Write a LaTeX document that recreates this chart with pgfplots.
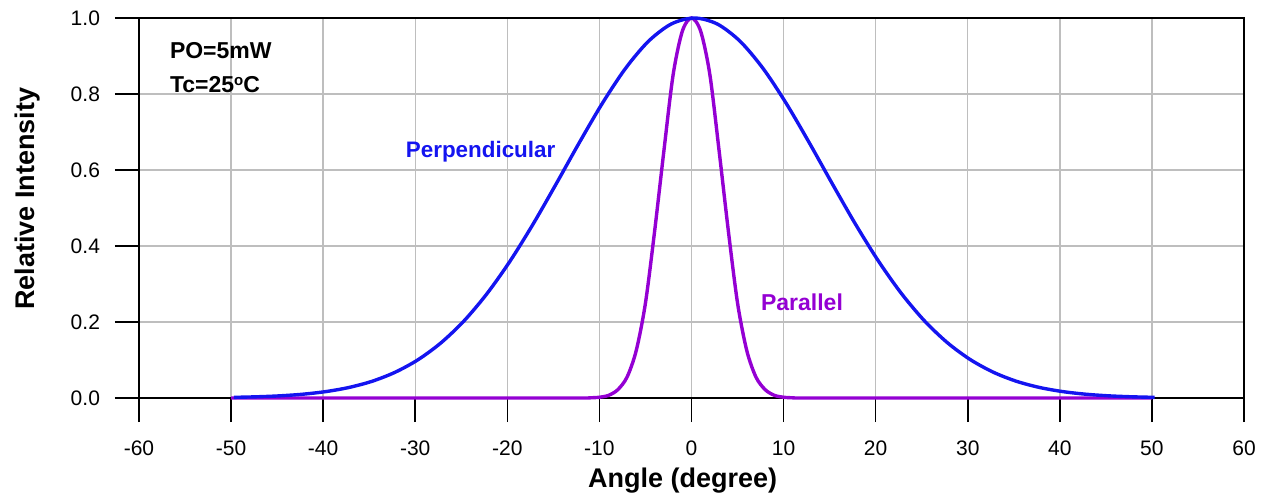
\documentclass[border=0pt]{standalone}
\usepackage{fontspec}
\setmainfont{Liberation Sans}
\usepackage{pgfplots}
\pgfplotsset{compat=1.18}

\definecolor{perpblue}{RGB}{20,20,240}
\definecolor{paraviolet}{RGB}{148,0,211}
\definecolor{gridgray}{RGB}{190,190,190}

\begin{document}
\begin{tikzpicture}
\useasboundingbox (-69.5pt,-50.5pt) rectangle (562.5pt,199pt);
\begin{axis}[
    scale only axis,
    width=552.5pt,
    height=190pt,
    at={(0,0)}, anchor=south west,
    xmin=-60, xmax=60,
    ymin=0, ymax=1,
    xtick={-60,-50,...,60},
    ytick={0,0.2,...,1.0},
    xtick pos=bottom, ytick pos=left,
    tick align=outside,
    major tick length=12pt,
    tick style={black, line width=0.8pt},
    axis line style={black, line width=0.8pt},
    grid=major,
    major grid style={gridgray, line width=0.7pt},
    ticklabel style={font=\fontsize{10.5}{12}\selectfont},
    xticklabel style={yshift=-6pt},
    yticklabel style={xshift=-4pt, /pgf/number format/.cd, fixed, fixed zerofill, precision=1},
    /pgf/number format/assume math mode=true,
    xlabel={\textbf{Angle (degree)}},
    ylabel={\textbf{Relative Intensity}},
    label style={font=\fontsize{13.5}{16}\selectfont},
    xlabel style={at={(axis description cs:0.4919,-0.2184)}, anchor=center},
    ylabel style={at={(axis description cs:-0.1005,0.524)}, anchor=center},
    clip=false,
]
% Parallel
\addplot[paraviolet, line width=1.7pt, smooth, tension=0.5] coordinates {
(-50,0) (-20,0) (-12,0) (-11,0.0005) (-10,0.002) (-9,0.007) (-8,0.022)
(-7,0.055) (-6,0.125) (-5,0.25) (-4,0.44) (-3,0.65) (-2,0.85) (-1,0.965)
(0,1.0) (1,0.965) (2,0.85) (3,0.65) (4,0.44) (5,0.25) (6,0.125)
(7,0.055) (8,0.022) (9,0.007) (10,0.002) (11,0.0005) (12,0) (20,0) (50,0)
};
% Perpendicular
\addplot[perpblue, line width=1.7pt, smooth] coordinates {
(-49.7,0.0017) (-47.2,0.0032) (-44.7,0.0057) (-42.2,0.0100) (-39.7,0.0169)
(-37.2,0.0277) (-34.7,0.0439) (-32.2,0.0676) (-29.7,0.1007) (-27.2,0.1453)
(-24.7,0.2030) (-22.2,0.2749) (-19.7,0.3604) (-17.2,0.4578) (-14.7,0.5633)
(-12.2,0.6713) (-9.7,0.7748) (-7.2,0.8663) (-4.7,0.9382) (-2.2,0.9842)
(0.3,1.0)
(2.8,0.9842) (5.3,0.9382) (7.8,0.8663) (10.3,0.7748) (12.8,0.6713)
(15.3,0.5633) (17.8,0.4578) (20.3,0.3604) (22.8,0.2749) (25.3,0.2030)
(27.8,0.1453) (30.3,0.1007) (32.8,0.0676) (35.3,0.0439) (37.8,0.0277)
(40.3,0.0169) (42.8,0.0100) (45.3,0.0057) (47.8,0.0032) (50.3,0.0017)
};
\node[anchor=west, font=\fontsize{11.5}{13}\selectfont\bfseries] at (axis cs:-57.4,0.913) {PO=5mW};
\node[anchor=west, font=\fontsize{11.5}{13}\selectfont\bfseries] at (axis cs:-57.4,0.826) {Tc=25\raisebox{0.55ex}{\fontsize{7.5}{8}\selectfont o}C};
\node[perpblue, font=\fontsize{11.2}{13}\selectfont\bfseries] at (axis cs:-22.9,0.647) {Perpendicular};
\node[paraviolet, font=\fontsize{11.5}{13}\selectfont\bfseries] at (axis cs:12.0,0.253) {Parallel};
\end{axis}
\end{tikzpicture}
\end{document}
